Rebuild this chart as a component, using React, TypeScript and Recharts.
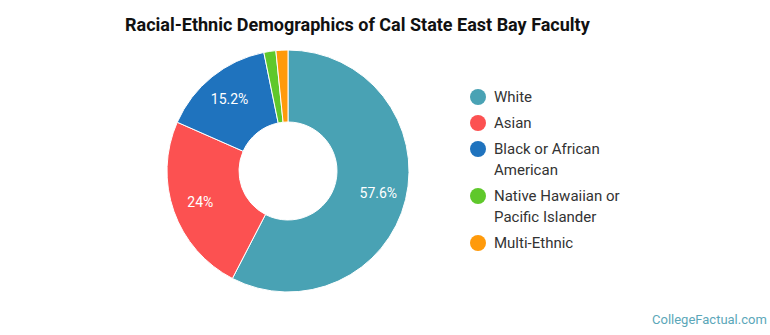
import React from "react";
import { PieChart, Pie, Cell, Legend } from "recharts";

const categories = ["White", "Asian", "Black or African American", "Native Hawaiian or Pacific Islander", "Multi-Ethnic"];
const legendLines = [["White"], ["Asian"], ["Black or African", "American"], ["Native Hawaiian or", "Pacific Islander"], ["Multi-Ethnic"]];
const values = [57.6, 24, 15.2, 1.6, 1.6];
const labels = ["57.6%", "24%", "15.2%", "", ""];
const colors = ["#49a2b4", "#fc5151", "#1f73be", "#5fc82b", "#ff9a0b"];

const data = categories.map((name, i) => ({ name, value: values[i], label: labels[i] }));

const RADIAN = Math.PI / 180;
const renderLabel = (props: any) => {
  const { cx, cy, midAngle, index } = props;
  const r = 93;
  const x = cx + r * Math.cos(-midAngle * RADIAN);
  const y = cy + r * Math.sin(-midAngle * RADIAN);
  const t = data[index].label;
  if (!t) return null;
  return (
    <text x={x} y={y} fill="#ffffff" textAnchor="middle" dominantBaseline="central" fontSize={14} fontFamily="Roboto">
      {t}
    </text>
  );
};

const LegendContent = () => (
  <div style={{ fontFamily: "Roboto", fontSize: 15, color: "#333333" }}>
    {legendLines.map((lines, i) => (
      <div key={i} style={{ display: "flex", alignItems: "flex-start", marginBottom: 5 }}>
        <svg width={16} height={16} style={{ marginTop: 2, marginRight: 8, flexShrink: 0 }}>
          <circle cx={8} cy={8} r={8} fill={colors[i]} />
        </svg>
        <div style={{ lineHeight: "21px" }}>
          {lines.map((l, j) => (
            <div key={j}>{l}</div>
          ))}
        </div>
      </div>
    ))}
  </div>
);

export default function App() {
  return (
    <div style={{ position: "absolute", left: 0, top: 0, width: 770, height: 335, background: "#fff" }}>
      <div style={{ position: "absolute", left: 125, top: 14, fontFamily: "Roboto", fontWeight: 700, fontSize: 18, color: "#111", whiteSpace: "nowrap" }}>
        Racial-Ethnic Demographics of Cal State East Bay Faculty
      </div>
      <PieChart width={770} height={335}>
        <Pie
          data={data}
          dataKey="value"
          nameKey="name"
          cx={283}
          cy={166}
          innerRadius={49}
          outerRadius={121}
          startAngle={90}
          endAngle={-270}
          stroke="#ffffff"
          strokeWidth={1}
          label={renderLabel}
          labelLine={false}
          isAnimationActive={false}
        >
          {data.map((d, i) => (
            <Cell key={d.name} fill={colors[i]} />
          ))}
        </Pie>
        <Legend content={<LegendContent />} wrapperStyle={{ position: "absolute", left: 470, top: 87, width: 200 }} />
      </PieChart>
      <div style={{ position: "absolute", left: 652, top: 312, fontFamily: "Roboto", fontSize: 13, color: "#5ba7b9", whiteSpace: "nowrap" }}>
        CollegeFactual.com
      </div>
    </div>
  );
}
